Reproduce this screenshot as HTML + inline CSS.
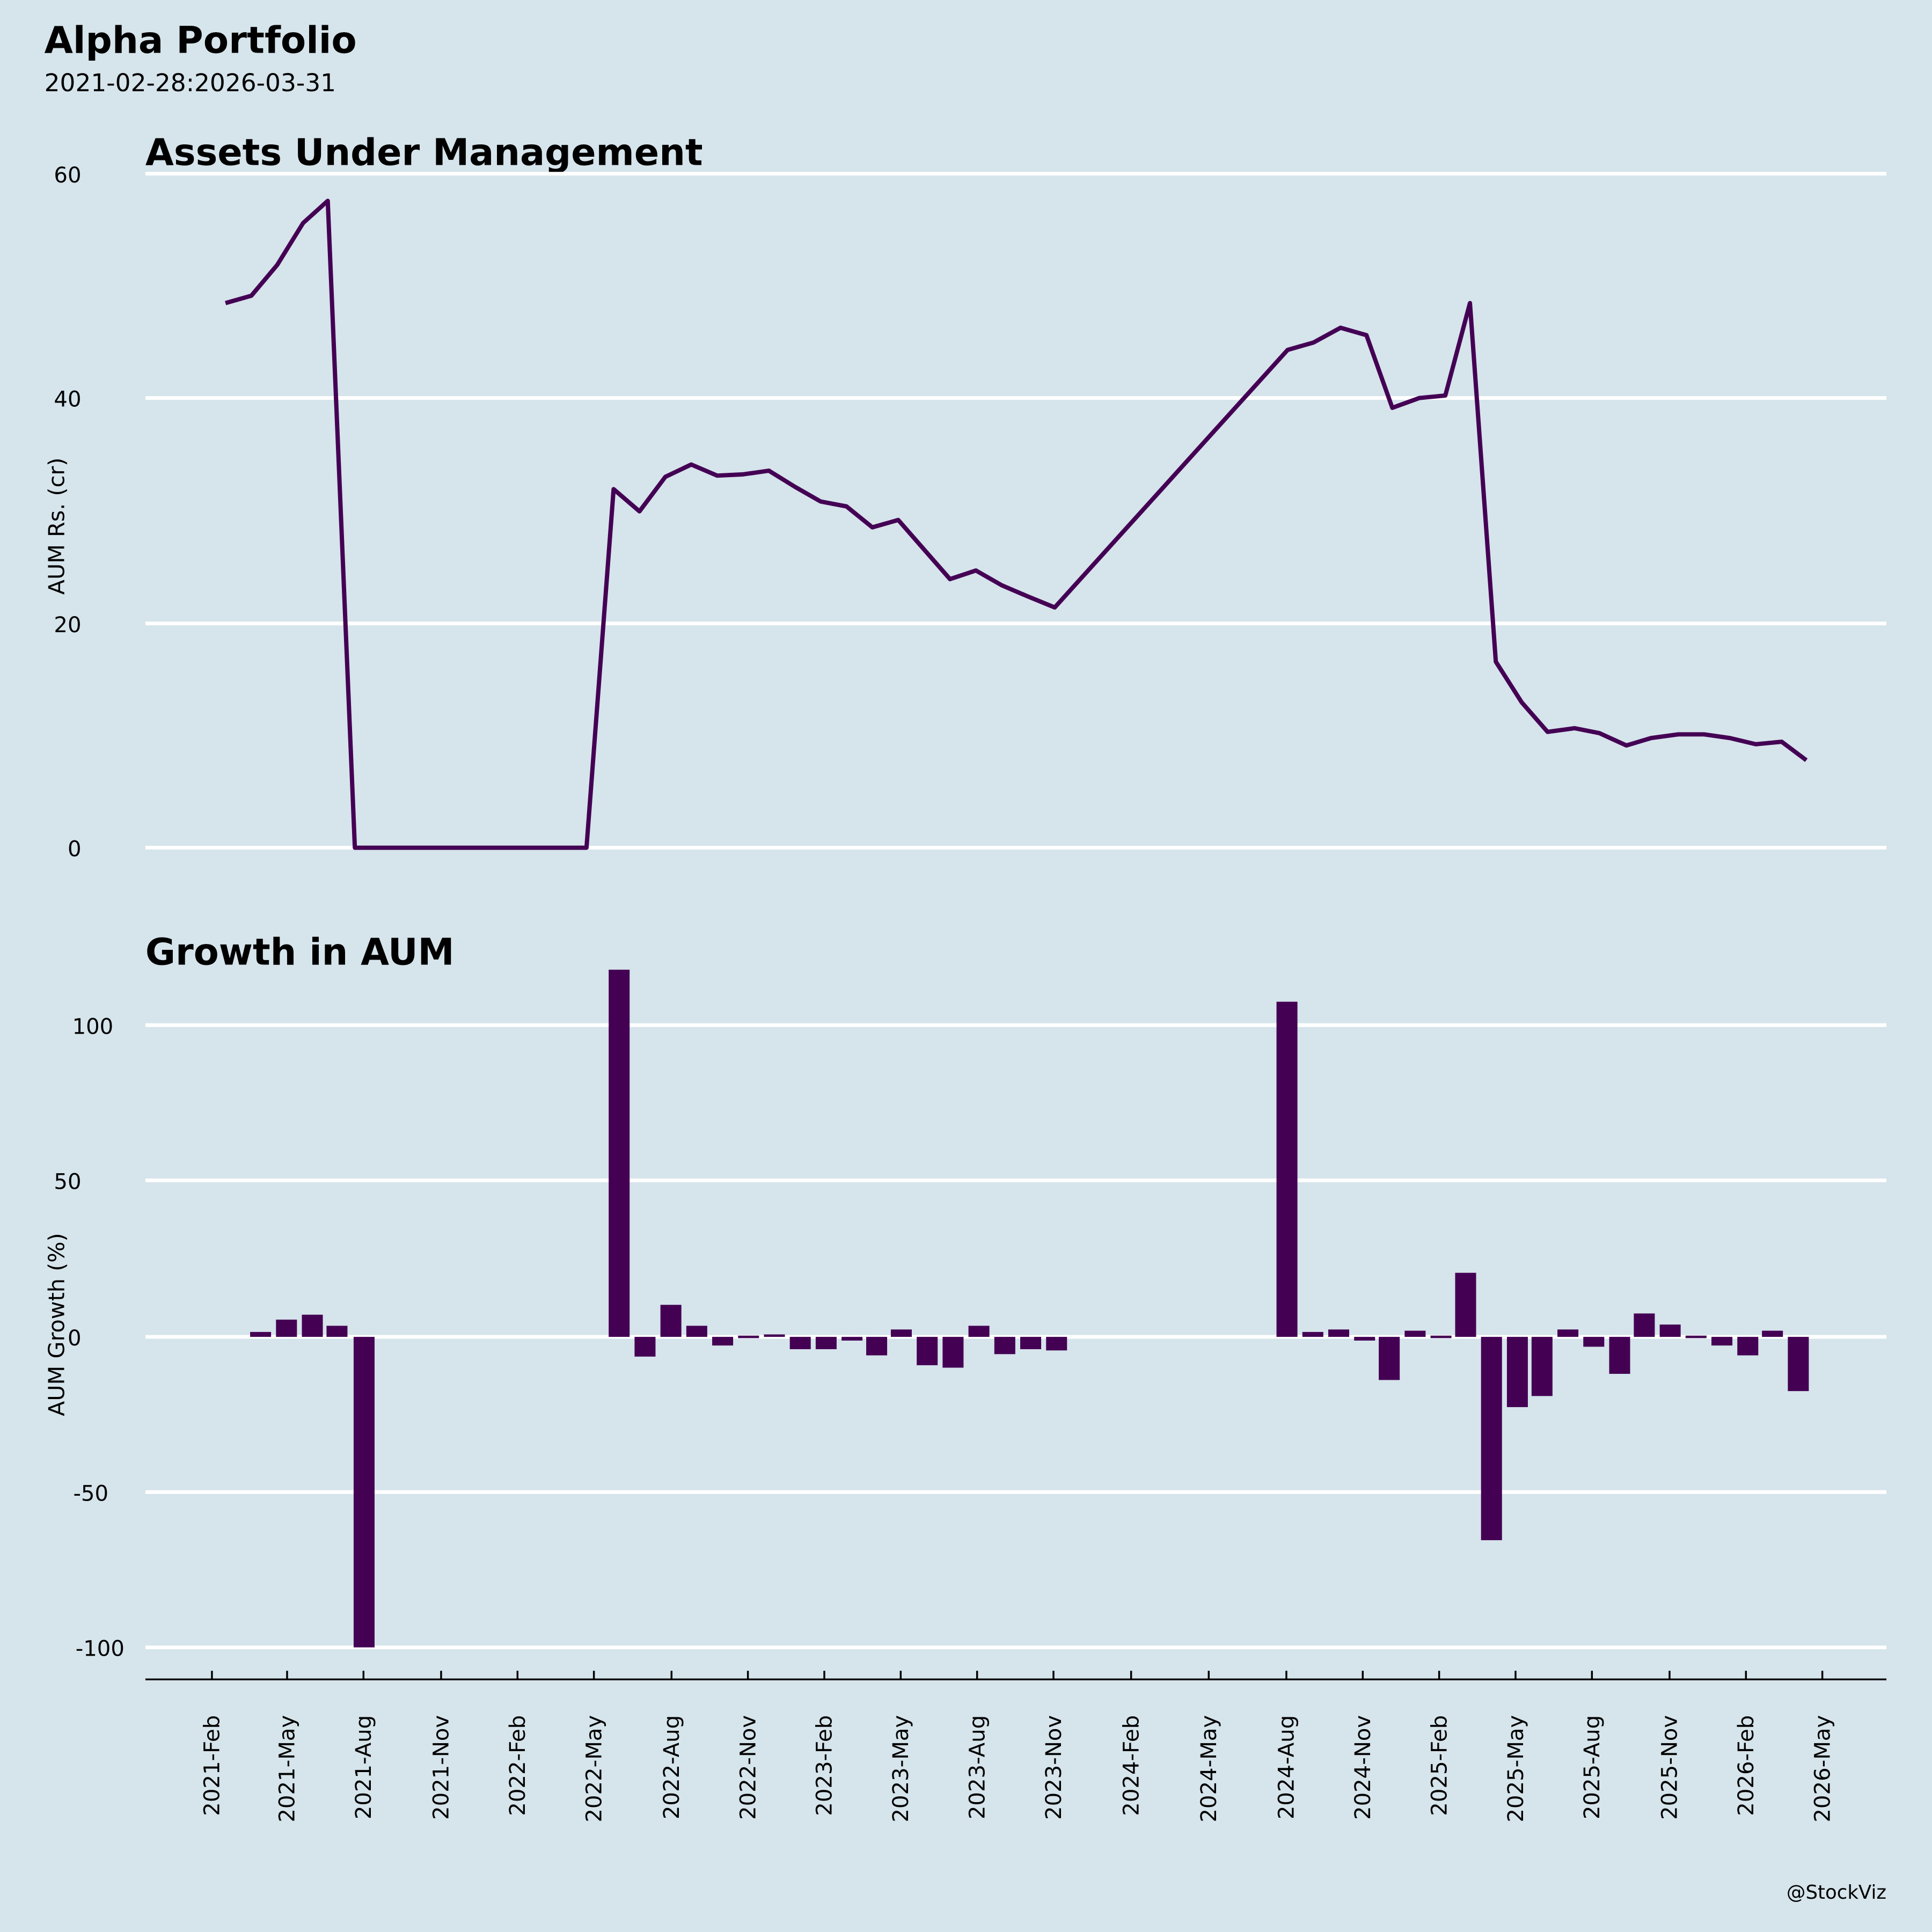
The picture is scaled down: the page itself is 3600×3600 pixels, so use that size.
<!DOCTYPE html>
<html><head><meta charset="utf-8"><style>html,body{margin:0;padding:0;background:#d6e4eb}svg{display:block}text{font-family:"DejaVu Sans","Liberation Sans",sans-serif;fill:#000}</style></head>
<body>
<svg width="3600" height="3600" viewBox="0 0 1568 1568" xmlns="http://www.w3.org/2000/svg">
<rect width="1568" height="1568" fill="#d6e4eb"/>
<text x="36" y="43" font-size="30" font-weight="bold">Alpha Portfolio</text>
<text x="36" y="74" font-size="19.8">2021-02-28:2026-03-31</text>
<text x="118" y="134" font-size="29.8" font-weight="bold">Assets Under Management</text>
<g stroke="#fff" stroke-width="3">
<line x1="118" x2="1531" y1="141" y2="141"/><line x1="118" x2="1531" y1="323" y2="323"/><line x1="118" x2="1531" y1="506" y2="506"/><line x1="118" x2="1531" y1="688" y2="688"/>
</g>
<g font-size="17.5" text-anchor="end">
<text x="66" y="148">60</text><text x="66" y="330">40</text><text x="66" y="513">20</text><text x="66" y="695">0</text>
</g>
<text transform="translate(52,427) rotate(-90)" font-size="18" text-anchor="middle">AUM Rs. (cr)</text>
<polyline fill="none" stroke="#440154" stroke-width="3.5" stroke-linejoin="round" points="183,246 204,240 225,215 246,181 266,163 288,688 476,688 498,397 519,415 540,387 561,377 582,386 603,385 624,382 645,395 666,407 687,411 708,428 729,422 750,446 771,470 792,463 813,475 834,484 856,493 1045,284 1066,278 1088,266 1109,272 1130,331 1152,323 1173,321 1193,246 1214,537 1235,570 1256,594 1278,591 1298,595 1320,605 1340,599 1362,596 1383,596 1404,599 1425,604 1446,602 1466,617"/>
<text x="118" y="783" font-size="29.8" font-weight="bold">Growth in AUM</text>
<g stroke="#fff" stroke-width="3">
<line x1="118" x2="1531" y1="832" y2="832"/><line x1="118" x2="1531" y1="958" y2="958"/><line x1="118" x2="1531" y1="1085" y2="1085"/><line x1="118" x2="1531" y1="1211" y2="1211"/><line x1="118" x2="1531" y1="1337" y2="1337"/>
</g>
<g font-size="17.5" text-anchor="end">
<text x="92" y="839">100</text><text x="66" y="965">50</text><text x="66" y="1092">0</text><text x="88" y="1218">-50</text><text x="101" y="1344">-100</text>
</g>
<text transform="translate(52,1075) rotate(-90)" font-size="18" text-anchor="middle">AUM Growth (%)</text>
<g fill="#440154">
<rect x="203" y="1081" width="17" height="4"/>
<rect x="224" y="1071" width="17" height="14"/>
<rect x="245" y="1067" width="17" height="18"/>
<rect x="265" y="1076" width="17" height="9"/>
<rect x="287" y="1085" width="17" height="252"/>
<rect x="494" y="787" width="17" height="298"/>
<rect x="515" y="1085" width="17" height="16"/>
<rect x="536" y="1059" width="17" height="26"/>
<rect x="557" y="1076" width="17" height="9"/>
<rect x="578" y="1085" width="17" height="7"/>
<rect x="599" y="1084" width="17" height="2"/>
<rect x="620" y="1083" width="17" height="2"/>
<rect x="641" y="1085" width="17" height="10"/>
<rect x="662" y="1085" width="17" height="10"/>
<rect x="683" y="1085" width="17" height="3"/>
<rect x="703" y="1085" width="17" height="15"/>
<rect x="723" y="1079" width="17" height="6"/>
<rect x="744" y="1085" width="17" height="23"/>
<rect x="765" y="1085" width="17" height="25"/>
<rect x="786" y="1076" width="17" height="9"/>
<rect x="807" y="1085" width="17" height="14"/>
<rect x="828" y="1085" width="17" height="10"/>
<rect x="849" y="1085" width="17" height="11"/>
<rect x="1036" y="813" width="17" height="272"/>
<rect x="1057" y="1081" width="17" height="4"/>
<rect x="1078" y="1079" width="17" height="6"/>
<rect x="1099" y="1085" width="17" height="3"/>
<rect x="1119" y="1085" width="17" height="35"/>
<rect x="1140" y="1080" width="17" height="5"/>
<rect x="1161" y="1084" width="17" height="2"/>
<rect x="1181" y="1033" width="17" height="52"/>
<rect x="1202" y="1085" width="17" height="165"/>
<rect x="1223" y="1085" width="17" height="57"/>
<rect x="1243" y="1085" width="17" height="48"/>
<rect x="1264" y="1079" width="17" height="6"/>
<rect x="1285" y="1085" width="17" height="8"/>
<rect x="1306" y="1085" width="17" height="30"/>
<rect x="1326" y="1066" width="17" height="19"/>
<rect x="1347" y="1075" width="17" height="10"/>
<rect x="1368" y="1084" width="17" height="2"/>
<rect x="1389" y="1085" width="17" height="7"/>
<rect x="1410" y="1085" width="17" height="15"/>
<rect x="1430" y="1080" width="17" height="5"/>
<rect x="1451" y="1085" width="17" height="44"/>
</g>
<line x1="118" x2="1531" y1="1363" y2="1363" stroke="#000" stroke-width="1.5"/>
<g font-size="17.5">
<line x1="172" x2="172" y1="1356" y2="1363" stroke="#000" stroke-width="1.5"/><text transform="translate(178,1392) rotate(-90)" text-anchor="end">2021-Feb</text>
<line x1="233" x2="233" y1="1356" y2="1363" stroke="#000" stroke-width="1.5"/><text transform="translate(239,1392) rotate(-90)" text-anchor="end">2021-May</text>
<line x1="295" x2="295" y1="1356" y2="1363" stroke="#000" stroke-width="1.5"/><text transform="translate(301,1392) rotate(-90)" text-anchor="end">2021-Aug</text>
<line x1="358" x2="358" y1="1356" y2="1363" stroke="#000" stroke-width="1.5"/><text transform="translate(364,1392) rotate(-90)" text-anchor="end">2021-Nov</text>
<line x1="420" x2="420" y1="1356" y2="1363" stroke="#000" stroke-width="1.5"/><text transform="translate(426,1392) rotate(-90)" text-anchor="end">2022-Feb</text>
<line x1="482" x2="482" y1="1356" y2="1363" stroke="#000" stroke-width="1.5"/><text transform="translate(488,1392) rotate(-90)" text-anchor="end">2022-May</text>
<line x1="545" x2="545" y1="1356" y2="1363" stroke="#000" stroke-width="1.5"/><text transform="translate(551,1392) rotate(-90)" text-anchor="end">2022-Aug</text>
<line x1="607" x2="607" y1="1356" y2="1363" stroke="#000" stroke-width="1.5"/><text transform="translate(613,1392) rotate(-90)" text-anchor="end">2022-Nov</text>
<line x1="669" x2="669" y1="1356" y2="1363" stroke="#000" stroke-width="1.5"/><text transform="translate(675,1392) rotate(-90)" text-anchor="end">2023-Feb</text>
<line x1="731" x2="731" y1="1356" y2="1363" stroke="#000" stroke-width="1.5"/><text transform="translate(737,1392) rotate(-90)" text-anchor="end">2023-May</text>
<line x1="793" x2="793" y1="1356" y2="1363" stroke="#000" stroke-width="1.5"/><text transform="translate(799,1392) rotate(-90)" text-anchor="end">2023-Aug</text>
<line x1="855" x2="855" y1="1356" y2="1363" stroke="#000" stroke-width="1.5"/><text transform="translate(861,1392) rotate(-90)" text-anchor="end">2023-Nov</text>
<line x1="918" x2="918" y1="1356" y2="1363" stroke="#000" stroke-width="1.5"/><text transform="translate(924,1392) rotate(-90)" text-anchor="end">2024-Feb</text>
<line x1="981" x2="981" y1="1356" y2="1363" stroke="#000" stroke-width="1.5"/><text transform="translate(987,1392) rotate(-90)" text-anchor="end">2024-May</text>
<line x1="1044" x2="1044" y1="1356" y2="1363" stroke="#000" stroke-width="1.5"/><text transform="translate(1050,1392) rotate(-90)" text-anchor="end">2024-Aug</text>
<line x1="1106" x2="1106" y1="1356" y2="1363" stroke="#000" stroke-width="1.5"/><text transform="translate(1112,1392) rotate(-90)" text-anchor="end">2024-Nov</text>
<line x1="1168" x2="1168" y1="1356" y2="1363" stroke="#000" stroke-width="1.5"/><text transform="translate(1174,1392) rotate(-90)" text-anchor="end">2025-Feb</text>
<line x1="1230" x2="1230" y1="1356" y2="1363" stroke="#000" stroke-width="1.5"/><text transform="translate(1236,1392) rotate(-90)" text-anchor="end">2025-May</text>
<line x1="1292" x2="1292" y1="1356" y2="1363" stroke="#000" stroke-width="1.5"/><text transform="translate(1298,1392) rotate(-90)" text-anchor="end">2025-Aug</text>
<line x1="1355" x2="1355" y1="1356" y2="1363" stroke="#000" stroke-width="1.5"/><text transform="translate(1361,1392) rotate(-90)" text-anchor="end">2025-Nov</text>
<line x1="1417" x2="1417" y1="1356" y2="1363" stroke="#000" stroke-width="1.5"/><text transform="translate(1423,1392) rotate(-90)" text-anchor="end">2026-Feb</text>
<line x1="1479" x2="1479" y1="1356" y2="1363" stroke="#000" stroke-width="1.5"/><text transform="translate(1485,1392) rotate(-90)" text-anchor="end">2026-May</text>
</g>
<text x="1531" y="1541" font-size="15.5" text-anchor="end">@StockViz</text>
</svg>
</body></html>
